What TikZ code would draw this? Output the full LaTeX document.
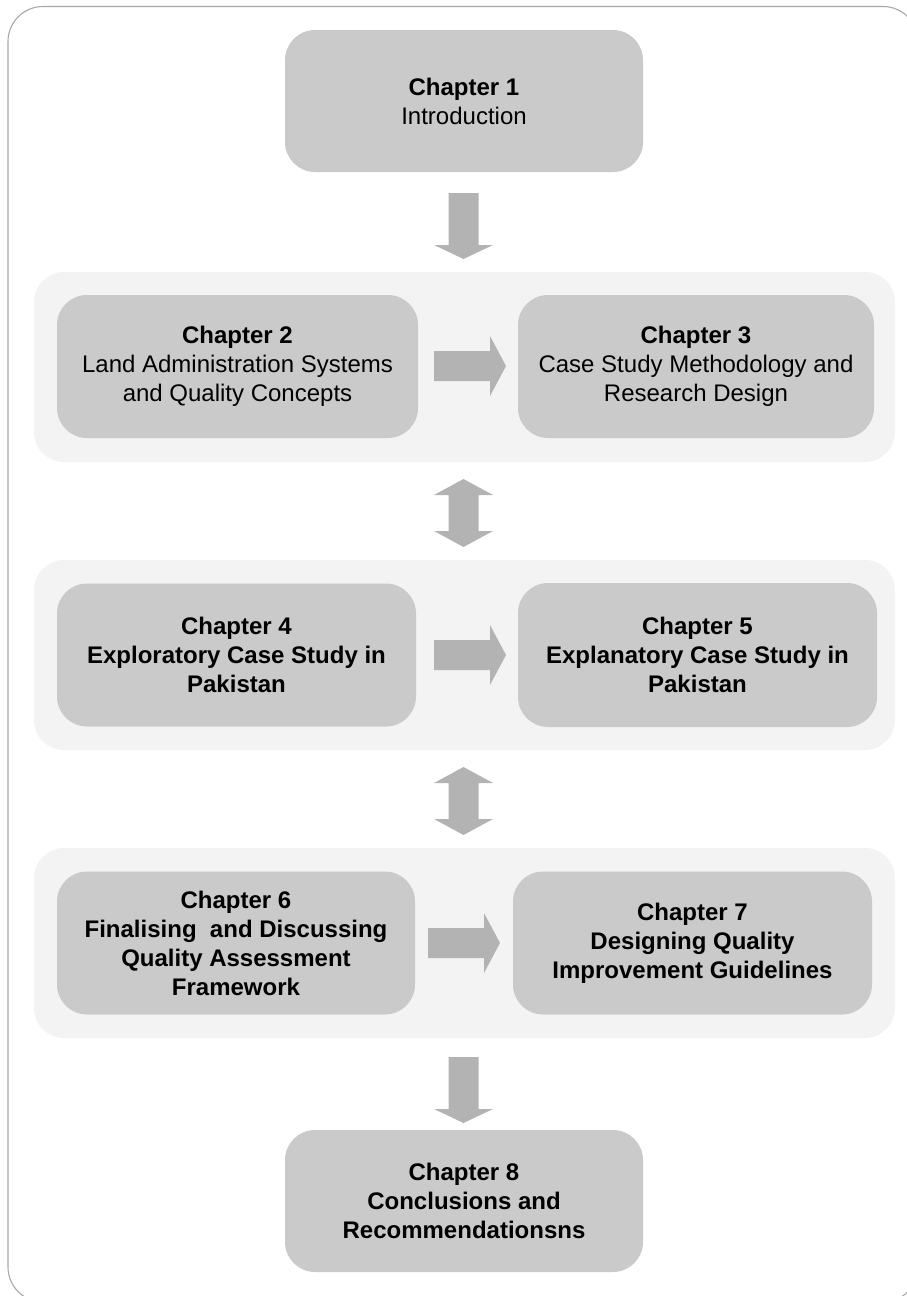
\documentclass[tikz,border=0pt]{standalone}
\usepackage{fontspec}
\setmainfont{Liberation Sans}
\definecolor{framegrey}{HTML}{A8A8A8}
\definecolor{groupgrey}{HTML}{F3F3F3}
\definecolor{boxgrey}{HTML}{CACACA}
\definecolor{arrowgrey}{HTML}{B3B3B3}
\tikzset{
  chap/.style={rectangle, rounded corners=30pt, fill=boxgrey, inner sep=0pt,
    align=center, text=black, font=\fontsize{24}{29}\selectfont},
  groupbox/.style={fill=groupgrey, rounded corners=30pt},
  blockdown/.pic={\fill[arrowgrey] (-15,0) -- (15,0) -- (15,52) -- (29.5,52)
      -- (0,66) -- (-29.5,52) -- (-15,52) -- cycle;},
  blockright/.pic={\fill[arrowgrey] (0,-15) -- (56,-15) -- (56,-30) -- (72,0)
      -- (56,30) -- (56,15) -- (0,15) -- cycle;},
  blockboth/.pic={\fill[arrowgrey] (0,0) -- (29.5,16) -- (15,16) -- (15,52)
      -- (29.5,52) -- (0,68) -- (-29.5,52) -- (-15,52) -- (-15,16)
      -- (-29.5,16) -- cycle;},
}
\begin{document}
\begin{tikzpicture}[x=1pt, y=-1pt]
\useasboundingbox (0,0) rectangle (907,1296);
\clip (0,0) rectangle (907,1296);

% outer frame
\draw[framegrey, line width=1.1pt, rounded corners=35pt] (8,6.5) rectangle (918,1302);

% light panels holding the paired chapters
\fill[groupbox] (34,272) rectangle (895,462);
\fill[groupbox] (34,560) rectangle (895,750);
\fill[groupbox] (34,848) rectangle (895,1038);

% chapters
\node[chap, minimum width=358pt, minimum height=142pt] (c1) at (464,101)
  {\textbf{Chapter 1}\\Introduction};
\node[chap, minimum width=361pt, minimum height=143pt] (c2) at (237.5,366.5)
  {\textbf{Chapter 2}\\Land Administration Systems\\and Quality Concepts};
\node[chap, minimum width=356pt, minimum height=143pt] (c3) at (696,366.5)
  {\textbf{Chapter 3}\\Case Study Methodology and\\Research Design};
\node[chap, minimum width=359pt, minimum height=143pt] (c4) at (236.5,655)
  {\textbf{Chapter 4}\\\textbf{Exploratory Case Study in}\\\textbf{Pakistan}};
\node[chap, minimum width=359pt, minimum height=144pt] (c5) at (697.5,655)
  {\textbf{Chapter 5}\\\textbf{Explanatory Case Study in}\\\textbf{Pakistan}};
\node[chap, minimum width=358pt, minimum height=143pt] (c6) at (236,943)
  {\textbf{Chapter 6}\\\textbf{Finalising\ \ and Discussing}\\\textbf{Quality Assessment}\\\textbf{Framework}};
\node[chap, minimum width=359pt, minimum height=143pt] (c7) at (692.5,943)
  {\textbf{Chapter 7}\\\textbf{Designing Quality}\\\textbf{Improvement Guidelines}};
\node[chap, minimum width=358pt, minimum height=142pt] (c8) at (464,1201)
  {\textbf{Chapter 8}\\\textbf{Conclusions and}\\\textbf{Recommendationsns}};

% block arrows between chapters
\pic at (463.5,193) {blockdown};
\pic at (434,366) {blockright};
\pic at (463.5,479) {blockboth};
\pic at (434,655) {blockright};
\pic at (463.5,767) {blockboth};
\pic at (428,943) {blockright};
\pic at (463.5,1057) {blockdown};
\end{tikzpicture}
\end{document}
